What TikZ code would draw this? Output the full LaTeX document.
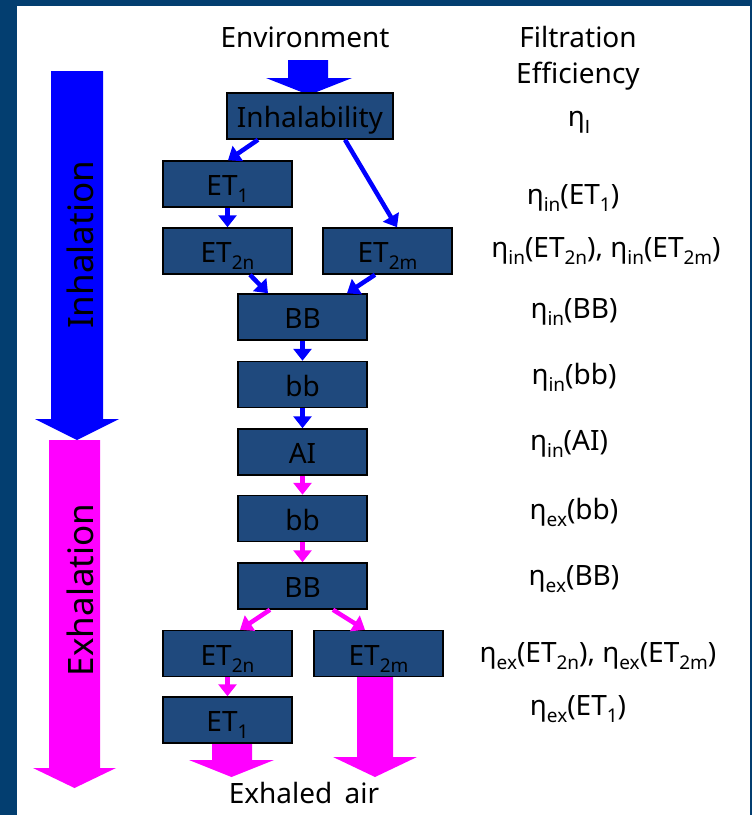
\documentclass[tikz,border=0pt]{standalone}
\usepackage{fontspec}
\setmainfont{Noto Sans}
\newfontfamily\plainsans{Liberation Sans}
\usetikzlibrary{arrows.meta}
\definecolor{framecol}{RGB}{3,62,112}
\definecolor{boxfill}{RGB}{31,73,125}
\definecolor{inblue}{RGB}{0,0,255}
\definecolor{exmag}{RGB}{255,0,255}
\newcommand\lsub[1]{\raisebox{-7pt}{\fontsize{19}{19}\selectfont #1}}
\begin{document}
\begin{tikzpicture}[x=1pt,y=-1pt,font=\fontsize{28}{30}\selectfont,
  region/.style={draw=black,line width=1.5pt,fill=boxfill,minimum height=46pt,
    minimum width=129pt,inner sep=0pt,text=black,text height=28pt,text depth=5pt},
  inarrow/.style={draw=inblue,line width=4.5pt,-{Triangle[width=18pt,length=12pt]}},
  exarrow/.style={draw=exmag,line width=4.5pt,-{Triangle[width=18pt,length=12pt]}},
  etalabel/.style={anchor=base,inner sep=0pt},
  sidetext/.style={rotate=90,anchor=base,inner sep=0pt,font=\fontsize{35}{40}\selectfont}]
\useasboundingbox (0,0) rectangle (752,815);
\fill[framecol] (0,0) rectangle (752,815);
\fill[white] (17,6) rectangle (750,815);
% side block arrows
\fill[exmag] (49,440) -- (100,440) -- (100,768) -- (116,768) -- (74.5,788) -- (33,768) -- (49,768) -- cycle;
\fill[inblue] (51,71) -- (103,71) -- (103,419) -- (119,419) -- (77,440) -- (35,419) -- (51,419) -- cycle;
\node[sidetext] (inhl) at (93,245) {Inhalation};
\node[sidetext] (exhl) at (93,590) {Exhalation};
% flow block arrows
\fill[inblue] (288,60) -- (328,60) -- (328,78) -- (352,78) -- (309,95) -- (266,78) -- (288,78) -- cycle;
\fill[exmag] (212,743) -- (252,743) -- (252,760) -- (274,760) -- (231.5,777) -- (189,760) -- (212,760) -- cycle;
\fill[exmag] (357,676) -- (393,676) -- (393,757) -- (417,757) -- (375,777) -- (333,757) -- (357,757) -- cycle;
% headings
\node[etalabel] (env) at (305,47) {Environment};
\node[etalabel] (filt) at (578,47) {Filtration};
\node[etalabel] (eff) at (578,83) {Efficiency};
\node[etalabel] (exh) at (304,803) {Exhaled\hspace{5pt} air};
% boxes
\node[region,minimum width=166pt] (inh) at (310,116) {Inhalability};
\node[region] (et1) at (227.5,184) {ET\lsub{1}};
\node[region] (et2n) at (227.5,251) {ET\lsub{2n}};
\node[region] (et2m) at (387.5,251) {ET\lsub{2m}};
\node[region] (bbA) at (302.5,317) {BB};
\node[region] (bbB) at (302.5,384.5) {bb};
\node[region] (ai) at (302.5,452) {AI};
\node[region] (bbC) at (302.5,518.5) {bb};
\node[region] (bbD) at (302.5,586) {BB};
\node[region] (et2nx) at (227.5,653.5) {ET\lsub{2n}};
\node[region] (et2mx) at (378.5,653.5) {ET\lsub{2m}};
\node[region] (et1x) at (227.5,720) {ET\lsub{1}};
% inhalation connectors
\draw[inarrow] ([xshift=-52pt]inh.south) -- ([xshift=0.5pt]et1.north);
\draw[inarrow] ([xshift=35pt]inh.south) -- ([xshift=9.5pt]et2m.north);
\draw[inarrow] (et1.south) -- (et2n.north);
\draw[inarrow] ([xshift=22.5pt]et2n.south) -- ([xshift=-34.5pt]bbA.north);
\draw[inarrow] ([xshift=-12.5pt]et2m.south) -- ([xshift=44.5pt]bbA.north);
\draw[inarrow] (bbA.south) -- (bbB.north);
\draw[inarrow] (bbB.south) -- (ai.north);
% exhalation connectors
\draw[exarrow] (ai.south) -- (bbC.north);
\draw[exarrow] (bbC.south) -- (bbD.north);
\draw[exarrow] ([xshift=-32.5pt]bbD.south) -- ([xshift=12.5pt]et2nx.north);
\draw[exarrow] ([xshift=30.5pt]bbD.south) -- ([xshift=-13.5pt]et2mx.north);
\draw[exarrow] (et2nx.south) -- (et1x.north);
% efficiency labels
\node[etalabel] (lI) at (579,126) {η\lsub{\plainsans I}};
\node[etalabel] (lin1) at (573,204) {η\lsub{in}(ET\lsub{1})};
\node[etalabel] (lin2) at (606,257) {η\lsub{in}(ET\lsub{2n}), η\lsub{in}(ET\lsub{2m})};
\node[etalabel] (linBB) at (574,318) {η\lsub{in}(BB)};
\node[etalabel] (linbb) at (574,384) {η\lsub{in}(bb)};
\node[etalabel] (linAI) at (569,450) {η\lsub{in}(AI)};
\node[etalabel] (lexbb) at (574,519) {η\lsub{ex}(bb)};
\node[etalabel] (lexBB) at (574,585) {η\lsub{ex}(BB)};
\node[etalabel] (lex2) at (598,662) {η\lsub{ex}(ET\lsub{2n}), η\lsub{ex}(ET\lsub{2m})};
\node[etalabel] (lex1) at (578,715) {η\lsub{ex}(ET\lsub{1})};
\end{tikzpicture}
\end{document}
